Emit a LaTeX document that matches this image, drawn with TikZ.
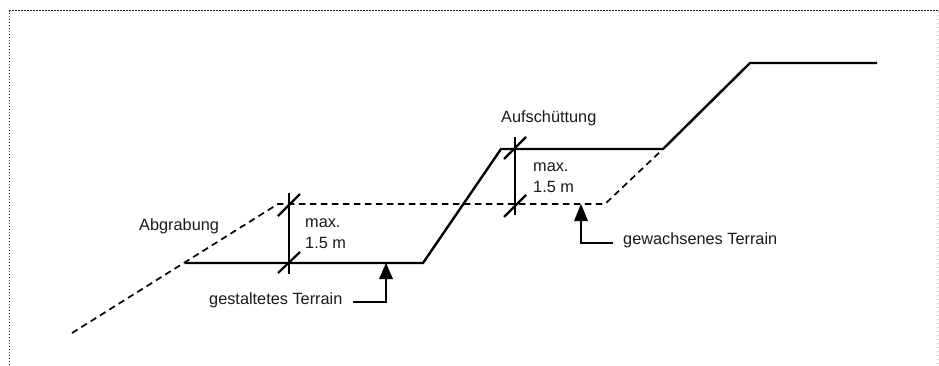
\documentclass[tikz,border=0pt]{standalone}
\usepackage{fontspec}
\setmainfont{Liberation Sans}
\begin{document}
\begin{tikzpicture}[x=1pt,y=-1pt,
  solidline/.style={line width=2.4pt,black,line join=miter},
  dashline/.style={line width=1.7pt,black,dash pattern=on 6.5pt off 4.5pt},
  frameline/.style={line width=1.5pt,black!85,dash pattern=on 1.5pt off 1.5pt},
  frameright/.style={line width=1.2pt,black!18,dash pattern=on 1.2pt off 2.8pt},
  dimline/.style={line width=2.2pt,black},
  leaderline/.style={line width=2.4pt,black},
  headfill/.style={fill=black,draw=none},
  lbl/.style={inner sep=0pt,font=\fontsize{16.3}{18}\selectfont,text=black!90,anchor=base west}]
\useasboundingbox (0,0) rectangle (939,365);
% frame
\coordinate (fa) at (9.5,365);
\coordinate (fb) at (9.5,10.5);
\coordinate (fc) at (938,10.5);
\coordinate (fd) at (938,365);
\draw[frameline] (fa) -- (fb) -- (fc);
\draw[frameright] (fc) -- (fd);
% terrain
\coordinate (d0) at (72,333);
\coordinate (s0) at (185,263);
\coordinate (d1) at (278,204);
\coordinate (d2) at (605,204);
\coordinate (s1) at (423,263);
\coordinate (s2) at (501,149);
\coordinate (s3) at (663,149);
\coordinate (s4) at (750,63);
\coordinate (s5) at (877,63);
\draw[dashline] (d0) -- (d1) -- (d2) -- (s3);
\draw[solidline] (s0) -- (s1) -- (s2) -- (s3) -- (s4) -- (s5);
% dimension 1
\coordinate (v1a) at (289,193);
\coordinate (v1b) at (289,274);
\coordinate (t1a) at (278,216);
\coordinate (t1b) at (300,194);
\coordinate (t1c) at (278,273);
\coordinate (t1d) at (300,252);
\draw[dimline] (v1a) -- (v1b);
\draw[dimline] (t1a) -- (t1b);
\draw[dimline] (t1c) -- (t1d);
% dimension 2
\coordinate (v2a) at (515,137);
\coordinate (v2b) at (515,215);
\coordinate (t2a) at (504,159);
\coordinate (t2b) at (526,137);
\coordinate (t2c) at (504,217);
\coordinate (t2d) at (526,195);
\draw[dimline] (v2a) -- (v2b);
\draw[dimline] (t2a) -- (t2b);
\draw[dimline] (t2c) -- (t2d);
% leaders
\coordinate (a1tip) at (386,263);
\coordinate (a1l) at (379,279);
\coordinate (a1r) at (393,279);
\coordinate (a1c) at (386,302);
\coordinate (a1e) at (353,302);
\draw[leaderline] (a1e) -- (a1c) -- (a1tip |- a1l);
\fill[headfill] (a1tip) -- (a1r) -- (a1l) -- cycle;
\coordinate (a2tip) at (581,204);
\coordinate (a2l) at (574,221);
\coordinate (a2r) at (588,221);
\coordinate (a2c) at (581,243);
\coordinate (a2e) at (613,243);
\draw[leaderline] (a2e) -- (a2c) -- (a2tip |- a2l);
\fill[headfill] (a2tip) -- (a2r) -- (a2l) -- cycle;
% labels
\node[lbl] (abgrabung) at (139,230) {Abgrabung};
\node[lbl] (aufschuettung) at (501,122) {Aufschüttung};
\node[lbl] (gestaltet) at (209,304) {gestaltetes Terrain};
\node[lbl] (gewachsen) at (623,244) {gewachsenes Terrain};
\node[lbl] (maxa) at (305,227) {max.};
\node[lbl] (masza) at (305,248) {1.5 m};
\node[lbl] (maxb) at (533,171) {max.};
\node[lbl] (maszb) at (533,192) {1.5 m};
\end{tikzpicture}
\end{document}
